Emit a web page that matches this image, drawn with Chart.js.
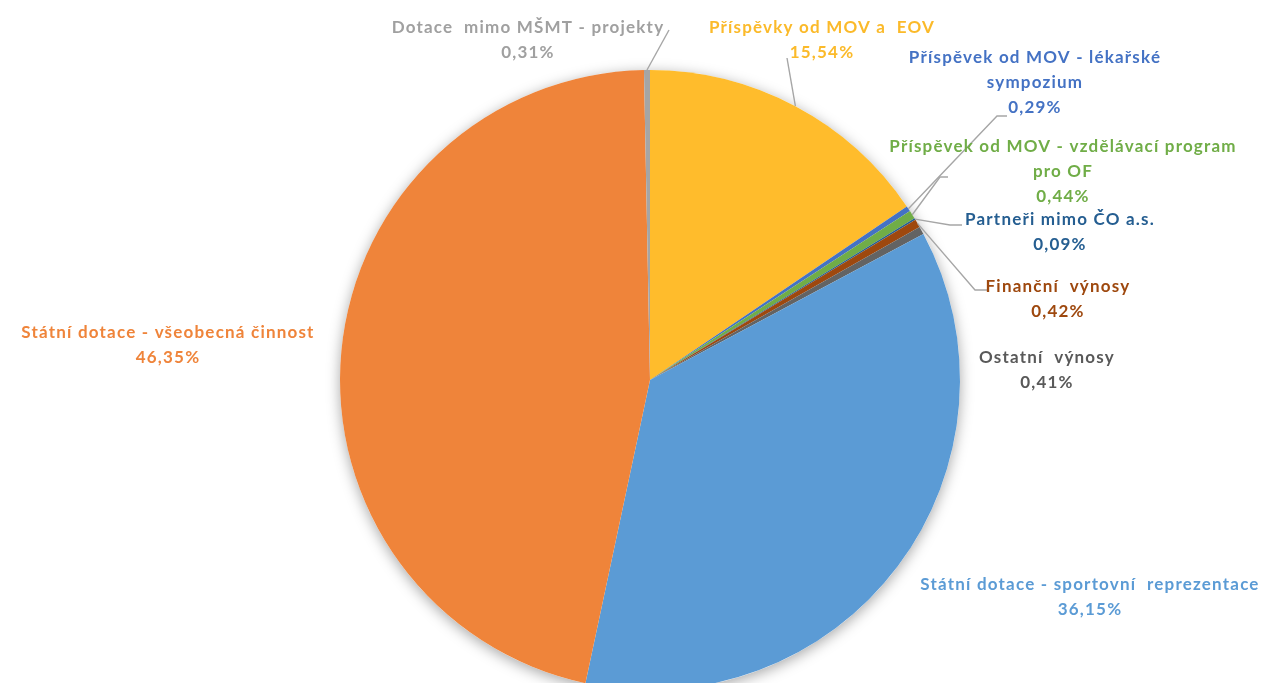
<!DOCTYPE html>
<html>
<head>
<meta charset="utf-8">
<script src="https://cdn.jsdelivr.net/npm/chart.js@4.4.0/dist/chart.umd.min.js"></script>
<style>
  html, body { margin: 0; padding: 0; background: #fff; overflow: hidden; }
  #wrap { width: 1271px; height: 760px; position: relative; }
</style>
</head>
<body>
<div id="wrap"><canvas id="pie"></canvas></div>
<script>
// categories and values (percent)
const categories = [
    ['Příspěvky od MOV a  EOV'],
    ['Příspěvek od MOV - lékařské', 'sympozium'],
    ['Příspěvek od MOV - vzdělávací program', 'pro OF'],
    ['Partneři mimo ČO a.s.'],
    ['Finanční  výnosy'],
    ['Ostatní  výnosy'],
    ['Státní dotace - sportovní  reprezentace'],
    ['Státní dotace - všeobecná činnost'],
    ['Dotace  mimo MŠMT - projekty']
];
const values = [15.54, 0.29, 0.44, 0.09, 0.42, 0.41, 36.15, 46.35, 0.31];
const valueLabels = ['15,54%', '0,29%', '0,44%', '0,09%', '0,42%', '0,41%', '36,15%', '46,35%', '0,31%'];

const colors = ['#FFBC2C', '#4472C4', '#70AD47', '#255E91', '#9E480E', '#636363', '#5B9BD5', '#EF843A', '#A5A5A5'];
const textColors = ['#FBBA2A', '#4472C4', '#70AD47', '#255E91', '#9E480E', '#595959', '#5B9BD5', '#EF843A', '#A0A0A0'];

// label placement relative to pie centre: text centre of first line, leader elbow/end points
const labelLayout = [
    { x: 172, y: -352, leader: [[137, -322]] },
    { x: 385, y: -322, leader: [[347, -264], [357, -264]] },
    { x: 413, y: -233, leader: [[290, -203], [298, -203]] },
    { x: 410, y: -160, leader: [[300, -155], [312, -155]] },
    { x: 408, y: -93,  leader: [[325, -90], [338, -90]] },
    { x: 397, y: -22,  leader: null },
    { x: 440, y: 205,  leader: null },
    { x: -482, y: -47, leader: null },
    { x: -122, y: -352, leader: [[19, -350]] }
];

const FONT = 'bold 17px Lato, "Open Sans", sans-serif';
const LINE_H = 25;

const shadowPlugin = {
    id: 'pieShadow',
    beforeDatasetsDraw(chart) {
        const arc = chart.getDatasetMeta(0).data[0];
        const ctx = chart.ctx;
        ctx.save();
        ctx.shadowColor = 'rgba(0,0,0,0.35)';
        ctx.shadowBlur = 14;
        ctx.shadowOffsetX = 0;
        ctx.shadowOffsetY = 3;
        ctx.fillStyle = '#fff';
        ctx.beginPath();
        ctx.arc(arc.x, arc.y, arc.outerRadius, 0, Math.PI * 2);
        ctx.fill();
        ctx.restore();
    }
};

const labelPlugin = {
    id: 'pieLabels',
    afterDatasetsDraw(chart) {
        const ctx = chart.ctx;
        const arcs = chart.getDatasetMeta(0).data;
        ctx.save();
        arcs.forEach((arc, i) => {
            const cx = arc.x, cy = arc.y;
            const mid = (arc.startAngle + arc.endAngle) / 2;
            const lay = labelLayout[i];
            if (lay.leader) {
                ctx.strokeStyle = '#A6A6A6';
                ctx.lineWidth = 1.4;
                ctx.beginPath();
                ctx.moveTo(cx + Math.cos(mid) * arc.outerRadius, cy + Math.sin(mid) * arc.outerRadius);
                lay.leader.forEach(p => ctx.lineTo(cx + p[0], cy + p[1]));
                ctx.stroke();
            }
            ctx.font = FONT;
            ctx.letterSpacing = '1.2px';
            ctx.fillStyle = textColors[i];
            ctx.textAlign = 'center';
            ctx.textBaseline = 'middle';
            const lines = categories[i].concat([valueLabels[i]]);
            lines.forEach((t, k) => ctx.fillText(t, cx + lay.x, cy + lay.y + k * LINE_H));
        });
        ctx.restore();
    }
};

new Chart(document.getElementById('pie'), {
    type: 'pie',
    data: {
        labels: categories.map(c => c.join(' ')),
        datasets: [{
            data: values,
            backgroundColor: colors,
            borderWidth: 0
        }]
    },
    options: {
        responsive: true,
        maintainAspectRatio: false,
        animation: false,
        layout: { padding: { top: 70, bottom: 70, left: 29, right: 0 } },
        plugins: { legend: { display: false }, tooltip: { enabled: false } }
    },
    plugins: [shadowPlugin, labelPlugin]
});
</script>
</body>
</html>
